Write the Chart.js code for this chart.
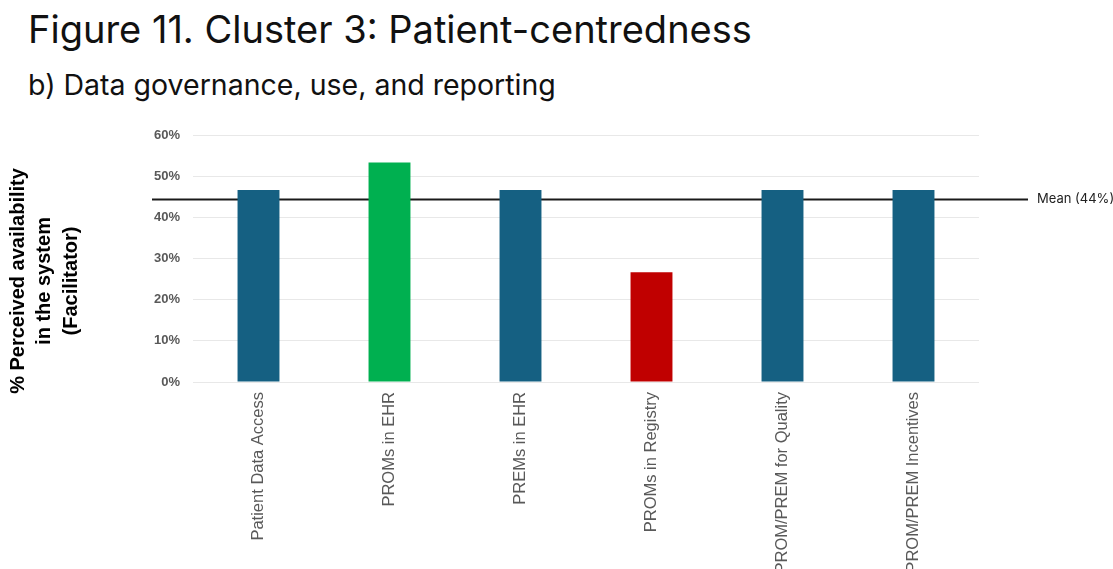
<!DOCTYPE html>
<html>
<head>
<meta charset="utf-8">
<script src="https://cdn.jsdelivr.net/npm/chart.js@4.4.1/dist/chart.umd.min.js"></script>
<style>
  html, body { margin: 0; padding: 0; background: #fff; overflow: hidden; }
  body { width: 1113px; height: 569px; position: relative; }
  .fig-title { position: absolute; left: 28px; top: 6px; font-family: Inter, "Noto Sans", sans-serif; font-size: 38px; color: #111; white-space: nowrap; }
  .fig-sub { position: absolute; left: 28px; top: 67px; font-family: Inter, "Noto Sans", sans-serif; font-size: 28.5px; color: #111; white-space: nowrap; }
  #wrap { position: absolute; left: 0; top: 0; width: 1113px; height: 610px; }
</style>
</head>
<body>
<div class="fig-title">Figure 11. Cluster 3: Patient-centredness</div>
<div class="fig-sub">b) Data governance, use, and reporting</div>
<div id="wrap"><canvas id="availChart"></canvas></div>
<script>
// categories and values (share of facilitators, %)
const categories = [
  "Patient Data Access",
  "PROMs in EHR",
  "PREMs in EHR",
  "PROMs in Registry",
  "PROM/PREM for Quality",
  "PROM/PREM Incentives"
];
const availability = [46.67, 53.33, 46.67, 26.67, 46.67, 46.67];
const barColors = ["#156082", "#00b050", "#156082", "#c00000", "#156082", "#156082"];
const yTicks = [0, 10, 20, 30, 40, 50, 60];
const yTitle = ["% Perceived availability", "in the system", "(Facilitator)"];

const meanValue = availability.reduce((s, v) => s + v, 0) / availability.length;

// mean reference line, drawn behind the bars
const meanLine = {
  id: "meanLine",
  beforeDatasetsDraw(chart) {
    const { ctx, scales: { y } } = chart;
    const py = Math.round(y.getPixelForValue(meanValue)) + 0.5;
    ctx.save();
    ctx.strokeStyle = "#1a1a1a";
    ctx.lineWidth = 2;
    ctx.beginPath();
    ctx.moveTo(152, py);
    ctx.lineTo(1028, py);
    ctx.stroke();
    ctx.fillStyle = "#222";
    ctx.font = "13px Inter, 'Noto Sans', sans-serif";
    ctx.textBaseline = "middle";
    ctx.fillText(`Mean (${Math.round(meanValue)}%)`, 1037, py);
    ctx.restore();
  }
};

// three-line rotated axis title, placed left of the tick labels
const axisTitle = {
  id: "axisTitle",
  afterDraw(chart) {
    const { ctx } = chart;
    ctx.save();
    ctx.translate(0, 281);
    ctx.rotate(-Math.PI / 2);
    ctx.fillStyle = "#000";
    ctx.font = "bold 20px 'Liberation Sans', Arial, sans-serif";
    ctx.textAlign = "center";
    ctx.textBaseline = "middle";
    yTitle.forEach((line, i) => ctx.fillText(line, 0, 18 + i * 26.5));
    ctx.restore();
  }
};

const ctx = document.getElementById("availChart").getContext("2d");
new Chart(ctx, {
  type: "bar",
  data: {
    labels: categories,
    datasets: [{
      data: availability,
      backgroundColor: barColors,
      borderWidth: 0,
      barPercentage: 0.8,
      categoryPercentage: 0.4
    }]
  },
  options: {
    responsive: true,
    maintainAspectRatio: false,
    animation: false,
    layout: { padding: { top: 135, right: 134, left: 4, bottom: 0 } },
    plugins: { legend: { display: false }, tooltip: { enabled: false } },
    scales: {
      x: {
        grid: { display: false },
        border: { display: false },
        ticks: {
          minRotation: 90,
          maxRotation: 90,
          autoSkip: false,
          padding: 2,
          color: "#595959",
          font: { family: "'Liberation Sans', Arial, sans-serif", size: 16.5 }
        },
        afterFit(scale) { scale.height = 228; }
      },
      y: {
        min: 0,
        max: 60,
        afterBuildTicks(scale) { scale.ticks = yTicks.map(v => ({ value: v })); },
        grid: { color: "#e8e8e8", lineWidth: 1, drawTicks: false },
        border: { display: false },
        ticks: {
          padding: 13,
          color: "#595959",
          font: { family: "'Liberation Sans', Arial, sans-serif", size: 13, weight: "bold" },
          callback: v => v + "%"
        },
        afterFit(scale) { scale.width = 189; }
      }
    }
  },
  plugins: [meanLine, axisTitle]
});
</script>
</body>
</html>
